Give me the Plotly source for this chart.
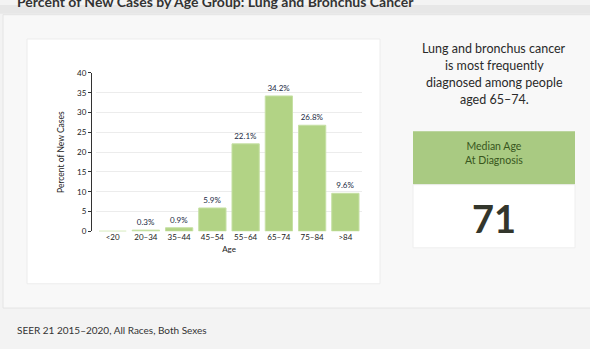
import plotly.graph_objects as go

W, H = 590, 349

age_groups = ["<20", "20–34", "35–44", "45–54", "55–64", "65–74", "75–84", ">84"]
percent_new_cases = [0.0, 0.3, 0.9, 5.9, 22.1, 34.2, 26.8, 9.6]
bar_labels = ["", "0.3%", "0.9%", "5.9%", "22.1%", "34.2%", "26.8%", "9.6%"]
y_ticks = [0, 5, 10, 15, 20, 25, 30, 35, 40]

title_text = "Percent of New Cases by Age Group: Lung and Bronchus Cancer"
side_lines = ["Lung and bronchus cancer", "is most frequently", "diagnosed among people", "aged 65–74."]
median_label = "Median Age<br>At Diagnosis"
median_value = "71"
footer_text = "SEER 21 2015–2020, All Races, Both Sexes"

FONT = "Lato"

def px(x):
    return x / W

def py(y):
    return 1 - y / H

fig = go.Figure()
fig.add_trace(go.Bar(
    x=age_groups, y=percent_new_cases,
    text=bar_labels, textposition="outside", cliponaxis=False,
    textfont=dict(size=8, color="#222a44", family=FONT),
    marker=dict(color="#b2d385", line=dict(color="#c6e0a4", width=1)),
    hoverinfo="skip",
))

shapes = []
def rect(x0, y0, x1, y1, fill, line="rgba(0,0,0,0)", lw=0):
    shapes.append(dict(type="rect", xref="paper", yref="paper",
                       x0=px(x0), x1=px(x1), y0=py(y1), y1=py(y0),
                       fillcolor=fill, line=dict(color=line, width=lw), layer="below"))

rect(0, 0, W, 9, "#e7e7e7")
rect(3, 10, W + 2, 312, "#f8f8f8", "#e4e4e4", 1)
rect(27, 35, 380, 287, "#ffffff", "#ececec", 1)
rect(413, 130, 575, 185, "#a9ca82")
rect(413, 185, 575, 250, "#ffffff", "#eeeeee", 1)

annotations = []
annotations.append(dict(xref="paper", yref="paper", x=px(15), y=py(-4), xanchor="left", yanchor="middle",
                        text="<b>" + title_text + "</b>", showarrow=False,
                        font=dict(size=14, color="#333333", family=FONT)))
for i, line in enumerate(side_lines):
    annotations.append(dict(xref="paper", yref="paper", x=px(494), y=py(45 + i * 17.5),
                            xanchor="center", yanchor="middle", text=line, showarrow=False,
                            font=dict(size=12.5, color="#2a2a2a", family=FONT)))
annotations.append(dict(xref="paper", yref="paper", x=px(494), y=py(152),
                        xanchor="center", yanchor="middle", text=median_label, showarrow=False,
                        font=dict(size=10.5, color="#38561d", family=FONT)))
annotations.append(dict(xref="paper", yref="paper", x=px(494), y=py(219),
                        xanchor="center", yanchor="middle", text="<b>" + median_value + "</b>", showarrow=False,
                        font=dict(size=38, color="#33362c", family=FONT)))
annotations.append(dict(xref="paper", yref="paper", x=px(15), y=py(335),
                        xanchor="left", yanchor="middle", text=footer_text, showarrow=False,
                        font=dict(size=10, color="#333333", family=FONT)))

fig.update_layout(
    width=W, height=H, margin=dict(l=0, r=0, t=0, b=0),
    paper_bgcolor="#f3f3f3", plot_bgcolor="#ffffff",
    showlegend=False, bargap=0.18,
    shapes=shapes, annotations=annotations,
    font=dict(family=FONT, color="#222222"),
    xaxis=dict(domain=[px(96), px(362)], tickfont=dict(size=8, color="#222222"),
               title=dict(text="Age", font=dict(size=8, color="#222222"), standoff=5),
               showgrid=False, showline=False, ticks=""),
    yaxis=dict(domain=[py(233), py(70)], range=[0, 40], tickvals=y_ticks,
               tickfont=dict(size=8, color="#222222"),
               title=dict(text="Percent of New Cases", font=dict(size=8.5, color="#222222"), standoff=10),
               showgrid=True, gridcolor="#ececec", gridwidth=1,
               showline=True, linecolor="#333333", linewidth=1, ticks="outside", ticklen=3,
               tickcolor="#333333", zeroline=False, anchor="free", position=px(91)),
)

fig.write_html("out.html")
